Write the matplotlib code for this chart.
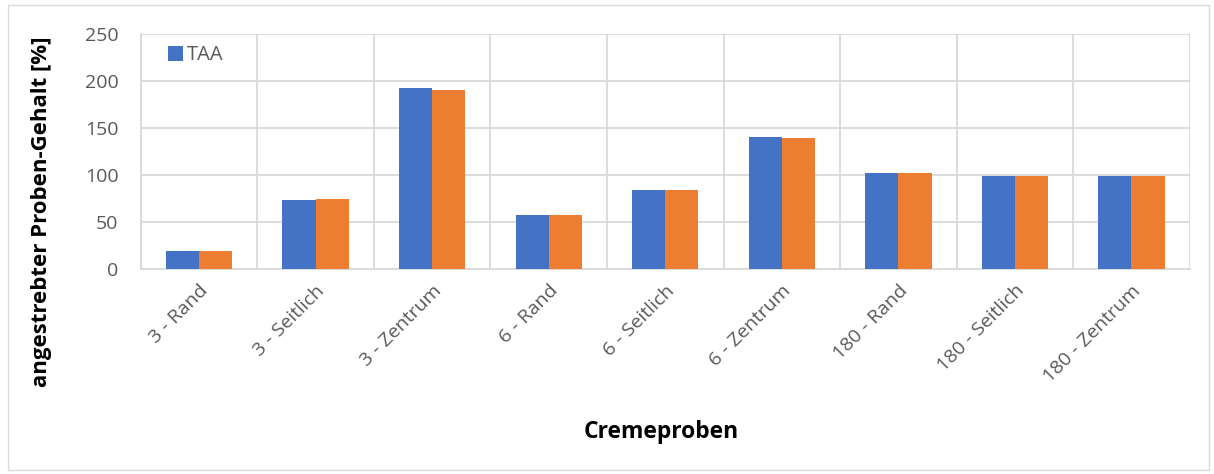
import numpy as np
import matplotlib.pyplot as plt
from matplotlib.patches import Rectangle
from matplotlib.ticker import MultipleLocator, FixedLocator

# Cremeproben und Gehalte (% des angestrebten Werts)
proben = ['3 - Rand', '3 - Seitlich', '3 - Zentrum',
          '6 - Rand', '6 - Seitlich', '6 - Zentrum',
          '180 - Rand', '180 - Seitlich', '180 - Zentrum']
taa = [19, 73, 193, 57, 84, 140, 102, 99.5, 99.5]
taa_2 = [19, 74, 190, 57, 84, 139, 102, 99.5, 99.5]

blau = '#4472c4'
orange = '#ed7d31'
grau = '#d9d9d9'
text_grau = '#595959'

plt.rcParams['font.family'] = ['Open Sans', 'DejaVu Sans']

fig = plt.figure(figsize=(12.14, 4.74), dpi=100)
ax = fig.add_axes([0.116, 0.4325, 0.864, 0.4955])

# Rahmen um das Diagramm
fig.patches.append(Rectangle((0.007, 0.008), 0.989, 0.982, transform=fig.transFigure,
                             fill=False, edgecolor=grau, linewidth=1))

x = np.arange(len(proben))
w = 0.285
ax.bar(x - w / 2, taa, width=w, color=blau, label='TAA', zorder=3)
ax.bar(x + w / 2, taa_2, width=w, color=orange, zorder=3)

ax.set_xlim(-0.5, len(proben) - 0.5)
ax.set_ylim(0, 250)
ax.yaxis.set_major_locator(MultipleLocator(50))
ax.set_xticks(x)
ax.set_xticklabels(proben, rotation=45, ha='right', rotation_mode='anchor')
ax.xaxis.set_minor_locator(FixedLocator(np.arange(-0.5, len(proben), 1)))

ax.grid(axis='y', which='major', color=grau, linewidth=1.3, zorder=0)
ax.grid(axis='x', which='minor', color=grau, linewidth=1.3, zorder=0)
ax.tick_params(axis='both', which='both', length=0, labelsize=14, labelcolor=text_grau)
ax.tick_params(axis='x', pad=9)
ax.tick_params(axis='y', pad=16)
for side in ['top', 'right']:
    ax.spines[side].set_visible(False)
for side in ['left', 'bottom']:
    ax.spines[side].set_color(grau)
    ax.spines[side].set_linewidth(1.3)

# Achsentitel
fig.text(0.034, 0.553, 'angestrebter Proben-Gehalt [%]', fontsize=16, fontweight='bold',
         rotation=90, ha='center', va='center')
fig.text(0.545, 0.088, 'Cremeproben', fontsize=16.5, fontweight='bold', ha='center', va='center')

ax.legend(loc='upper left', bbox_to_anchor=(0.009, 1.03), frameon=False, fontsize=14.5,
          handlelength=0.75, handleheight=0.75, handletextpad=0.15, labelcolor=text_grau)

plt.savefig('out.png', dpi=100)
